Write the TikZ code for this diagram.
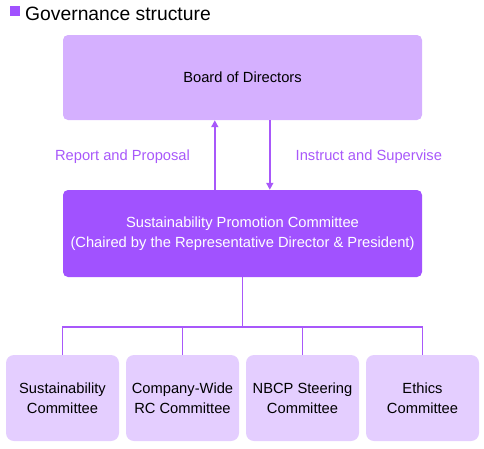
\documentclass[tikz,border=0pt]{standalone}
\usepackage{fontspec}
\setmainfont{Liberation Sans}
\usetikzlibrary{arrows.meta}
\definecolor{lightpurple}{RGB}{213,176,255}
\definecolor{midpurple}{RGB}{161,82,255}
\definecolor{palepurple}{RGB}{228,206,255}
\definecolor{linepurple}{RGB}{168,88,250}
\begin{document}
\begin{tikzpicture}[x=1pt,y=1pt,font=\fontsize{14.7}{20}\selectfont,
	topbox/.style={fill=lightpurple,rounded corners=5pt,minimum width=359pt,minimum height=85pt,align=center,inner sep=0pt},
	chairbox/.style={fill=midpurple,text=white,rounded corners=5pt,minimum width=359pt,minimum height=87pt,align=center,inner sep=0pt},
	subbox/.style={fill=palepurple,rounded corners=8pt,minimum width=113pt,minimum height=86pt,align=center,inner sep=0pt},
	link/.style={linepurple,line width=1.6pt}]
	\useasboundingbox (0,0) rectangle (484,-448);
	\fill[midpurple] (10,-5.5) rectangle (20,-16);
	\node[anchor=base west,inner sep=0pt,font=\fontsize{19.3}{22}\selectfont] (title) at (25,-20) {Governance structure};
	\node[topbox] (board) at (242.5,-77.5) {Board of Directors};
	\node[chairbox] (spc) at (242.5,-233.5) {Sustainability Promotion Committee\\(Chaired by the Representative Director \& President)};
	\draw[link,-{Triangle[length=7pt,width=7pt]}] (spc.south west) ++(152,87) coordinate (up0) -- (up0|-board.south);
	\draw[link,-{Triangle[length=7pt,width=7pt]}] (board.south west) ++(207,0) coordinate (dn0) -- (dn0|-spc.north);
	\node[text=linepurple] (report) at (122.5,-157) {Report and Proposal};
	\node[text=linepurple,anchor=west,inner sep=0pt] (instruct) at (295.5,-157) {Instruct and Supervise};
	\foreach \x/\name/\txt in {62.5/sus/Sustainability\\Committee, 182.5/crc/Company-Wide\\RC Committee, 302.5/nbcp/NBCP Steering\\Committee, 422.5/eth/Ethics\\Committee}{
		\node[subbox] (\name) at (\x,-398) {\txt};
	}
	\coordinate (hub) at (242.5,-327);
	\draw[link] (spc.south) -- (hub);
	\draw[link] (sus.north) -- (sus.north|-hub) -- (eth.north|-hub) -- (eth.north);
	\draw[link] (crc.north) -- (crc.north|-hub);
	\draw[link] (nbcp.north) -- (nbcp.north|-hub);
\end{tikzpicture}
\end{document}
